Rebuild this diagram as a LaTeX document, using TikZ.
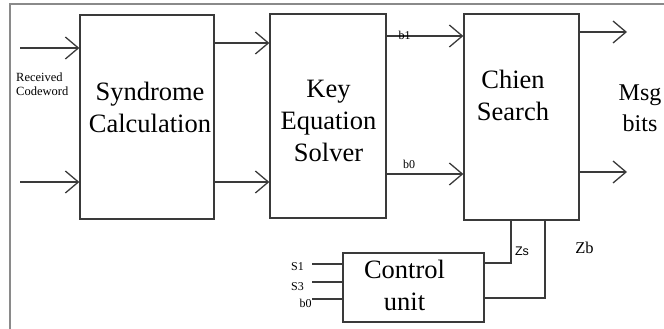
\documentclass[tikz,border=0pt]{standalone}
\usepackage{fontspec}
\setmainfont{Liberation Serif}
\newfontfamily\lsans{Liberation Sans}
\usetikzlibrary{arrows.meta}
\definecolor{linec}{HTML}{3A3A3A}
\definecolor{framec}{HTML}{8A8A8A}
\begin{document}
\begin{tikzpicture}[x=1pt,y=-1pt,
  blk/.style={draw=linec, line width=1.3pt, inner sep=0pt},
  big/.style={font=\fontsize{26.5}{32}\selectfont, align=center, text=black, inner sep=0pt},
  lbl/.style={font=\fontsize{12}{13}\selectfont, text=black, inner sep=0pt},
  wire/.style={draw=linec, line width=1.3pt},
  arr/.style={wire, -{Straight Barb[length=13pt,width=22pt,line width=1.3pt]}}]
\useasboundingbox (0,0) rectangle (664,329);
% frame
\draw[framec, line width=2pt] (664,4) -- (10,4) -- (10,329);
% blocks
\node[blk, minimum width=134pt, minimum height=204pt] (syn) at (147,117) {};
\node[blk, minimum width=116pt, minimum height=204pt] (kes) at (328,116) {};
\node[blk, minimum width=115pt, minimum height=206pt] (chien) at (521.5,117) {};
\node[blk, minimum width=141pt, minimum height=69pt] (ctrl) at (413.5,287.5) {};
% block texts
\node[big] (syntxt) at (150,107.5) {Syndrome\\Calculation};
\node[big] (kestxt) at (328.5,121) {Key\\Equation\\Solver};
\node[big] (chientxt) at (513,95) {Chien\\Search};
\node[big] (ctrltxt) at (404.5,285) {Control\\unit};
\node[font=\fontsize{24}{31}\selectfont, align=center, inner sep=0pt] (msg) at (640,108.5) {Msg\\bits};
\node[font=\fontsize{12.5}{14}\selectfont, align=left, anchor=west, inner sep=0pt] (rcv) at (16,84) {Received\\Codeword};
% input arrows
\coordinate (in1) at (20,48);
\coordinate (in2) at (20,182);
\draw[arr] (in1) -- (in1 -| syn.west);
\draw[arr] (in2) -- (in2 -| syn.west);
% syndrome -> KES
\coordinate (sk1) at (242,43);
\coordinate (sk2) at (242,182);
\draw[arr] (sk1 -| syn.east) -- (sk1 -| kes.west);
\draw[arr] (sk2 -| syn.east) -- (sk2 -| kes.west);
% KES -> Chien
\coordinate (kc1) at (425,36);
\coordinate (kc0) at (425,174);
\draw[arr] (kc1 -| kes.east) -- (kc1 -| chien.west);
\draw[arr] (kc0 -| kes.east) -- (kc0 -| chien.west);
\node[lbl] (b1lbl) at (404.5,35) {b1};
\node[lbl] (b0lbl) at (409,164) {b0};
% outputs
\coordinate (o1) at (627,32);
\coordinate (o2) at (627,172);
\draw[arr] (o1 -| chien.east) -- (o1);
\draw[arr] (o2 -| chien.east) -- (o2);
% control unit inputs
\coordinate (s1) at (312,264);
\coordinate (s3) at (312,282);
\coordinate (bz) at (312,299);
\draw[wire] (s1) -- (s1 -| ctrl.west);
\draw[wire] (s3) -- (s3 -| ctrl.west);
\draw[wire] (bz) -- (bz -| ctrl.west);
\node[lbl] (s1lbl) at (297.5,267) {S1};
\node[lbl] (s3lbl) at (297.5,287) {S3};
\node[lbl] (bzlbl) at (305.5,303) {b0};
% Zs, Zb
\coordinate (zs) at (511,263);
\coordinate (zb) at (545,298);
\draw[wire] (zs |- chien.south) -- (zs) -- (zs -| ctrl.east);
\draw[wire] (zb |- chien.south) -- (zb) -- (zb -| ctrl.east);
\node[font=\lsans\fontsize{12.5}{14}\selectfont, inner sep=0pt] (zslbl) at (522,251) {Zs};
\node[font=\fontsize{16.5}{18}\selectfont, inner sep=0pt] (zblbl) at (584.5,248) {Zb};
\end{tikzpicture}
\end{document}
